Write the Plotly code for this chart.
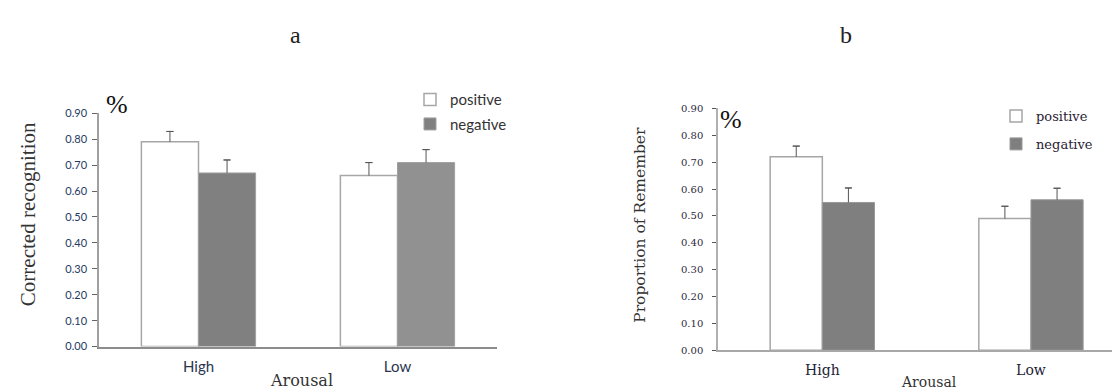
import plotly.graph_objects as go

categories = ["High", "Low"]
series_names = ["positive", "negative"]

# Panel a: Corrected recognition
a_positive = [0.79, 0.66]
a_negative = [0.67, 0.71]
a_positive_err = [0.04, 0.05]
a_negative_err = [0.05, 0.05]

# Panel b: Proportion of Remember
b_positive = [0.72, 0.49]
b_negative = [0.55, 0.56]
b_positive_err = [0.04, 0.046]
b_negative_err = [0.054, 0.043]

y_tick_vals = [0.0, 0.1, 0.2, 0.3, 0.4, 0.5, 0.6, 0.7, 0.8, 0.9]

W, H = 1120, 391
SANS = "Lato, Carlito, 'Liberation Sans', sans-serif"
SERIF_A = "'Liberation Serif', 'Times New Roman', serif"
SERIF_B = "'DejaVu Serif', serif"
ERR_COLOR = "#555555"

fig = go.Figure()


def px_x(x):
    return x / W


def px_y(y):
    return 1 - y / H


def add_series(vals, errs, name, width, offset, marker, xa, ya, legend, group):
    # the bar itself, with a cap-less whisker going upward
    fig.add_trace(go.Bar(
        x=categories, y=vals, name=name, width=width, offset=offset,
        marker=marker,
        error_y=dict(type="data", symmetric=False, array=errs, arrayminus=[0] * len(errs),
                     color=ERR_COLOR, thickness=1, width=0),
        xaxis=xa, yaxis=ya, legend=legend, legendgroup=group,
    ))
    # the cap at the top of the whisker (zero-length error bar on an invisible bar)
    tops = [v + e for v, e in zip(vals, errs)]
    fig.add_trace(go.Bar(
        x=categories, y=tops, width=width, offset=offset, showlegend=False,
        marker=dict(color="rgba(0,0,0,0)", line=dict(width=0)), hoverinfo="skip",
        error_y=dict(type="data", symmetric=True, array=[0] * len(errs),
                     color=ERR_COLOR, thickness=1, width=3.5),
        xaxis=xa, yaxis=ya, legend=legend, legendgroup=group,
    ))


# ---- panel a ----
wa = 0.287
add_series(a_positive, a_positive_err, series_names[0], wa, -wa,
           dict(color="#ffffff", line=dict(color="#a6a6a6", width=1.5)),
           "x", "y", "legend", "ap")
add_series(a_negative, a_negative_err, series_names[1], wa, 0,
           dict(color=["#808080", "#919191"], line=dict(color="#a0a0a0", width=1)),
           "x", "y", "legend", "an")

# ---- panel b ----
wb = 0.25
add_series(b_positive, b_positive_err, series_names[0], wb, -wb,
           dict(color="#ffffff", line=dict(color="#a6a6a6", width=1.5)),
           "x2", "y2", "legend2", "bp")
add_series(b_negative, b_negative_err, series_names[1], wb, 0,
           dict(color="#7f7f7f", line=dict(color="#9a9a9a", width=1)),
           "x2", "y2", "legend2", "bn")


def ann(text, x, y, family, size, color="#333333", angle=0):
    return dict(text=text, x=px_x(x), y=px_y(y), xref="paper", yref="paper",
                xanchor="center", yanchor="middle", showarrow=False, textangle=angle,
                font=dict(family=family, size=size, color=color))


fig.update_layout(
    width=W, height=H,
    margin=dict(l=0, r=0, t=0, b=0),
    paper_bgcolor="#ffffff", plot_bgcolor="#ffffff",
    showlegend=True,
    xaxis=dict(
        domain=[px_x(91), px_x(489)], range=[-0.5, 1.5], type="category",
        showline=True, linecolor="#8c8c8c", linewidth=1.5, ticks="",
        showgrid=False, zeroline=False,
        tickfont=dict(family=SANS, size=15, color="#2b3550"),
        anchor="y", ticklabelstandoff=6,
    ),
    yaxis=dict(
        domain=[px_y(343), px_y(101.7)], range=[0, 0.9],
        tickvals=y_tick_vals, tickformat=".2f",
        showline=True, linecolor="#a0a0a0", linewidth=1.5,
        ticks="outside", ticklen=5, tickcolor="#666666", tickwidth=1,
        showgrid=False, zeroline=False,
        tickfont=dict(family=SANS, size=11, color="#243a63"),
        anchor="x", ticklabelstandoff=3,
    ),
    xaxis2=dict(
        domain=[px_x(710), 1.0], range=[-0.5, 1.465], type="category",
        showline=True, linecolor="#a8a8a8", linewidth=1.5, ticks="",
        showgrid=False, zeroline=False,
        tickfont=dict(family=SERIF_B, size=14, color="#222233"),
        anchor="y2", ticklabelstandoff=6,
    ),
    yaxis2=dict(
        domain=[px_y(346.7), px_y(96.7)], range=[0, 0.9],
        tickvals=y_tick_vals, tickformat=".2f",
        showline=True, linecolor="#b0b0b0", linewidth=1.5,
        ticks="outside", ticklen=4, tickcolor="#555555", tickwidth=1,
        showgrid=False, zeroline=False,
        tickfont=dict(family=SERIF_B, size=10, color="#2e2840"),
        anchor="x2", ticklabelstandoff=7,
    ),
    legend=dict(
        x=px_x(402), y=px_y(100), xanchor="left", yanchor="middle",
        font=dict(family=SANS, size=15, color="#333333"),
        bgcolor="rgba(0,0,0,0)", traceorder="grouped", tracegroupgap=2,
        itemwidth=30,
    ),
    legend2=dict(
        x=px_x(988), y=px_y(119), xanchor="left", yanchor="middle",
        font=dict(family=SERIF_B, size=13, color="#2a2233"),
        bgcolor="rgba(0,0,0,0)", traceorder="grouped", tracegroupgap=8,
        itemwidth=30,
    ),
    annotations=[
        ann("a", 287, 21, SERIF_A, 24, "#222222"),
        ann("b", 838, 21, SERIF_A, 24, "#222222"),
        ann("%", 109, 93, SERIF_A, 26, "#111111"),
        ann("%", 723, 108, SERIF_A, 26, "#111111"),
        ann("Corrected recognition", 20, 206, SERIF_A, 21, angle=-90),
        ann("Proportion of Remember", 632, 217, SERIF_B, 15.5, angle=-90),
        ann("Arousal", 293, 378, SERIF_B, 16),
        ann("Arousal", 921, 380, SERIF_B, 14),
    ],
)

fig.write_html("out.html")
